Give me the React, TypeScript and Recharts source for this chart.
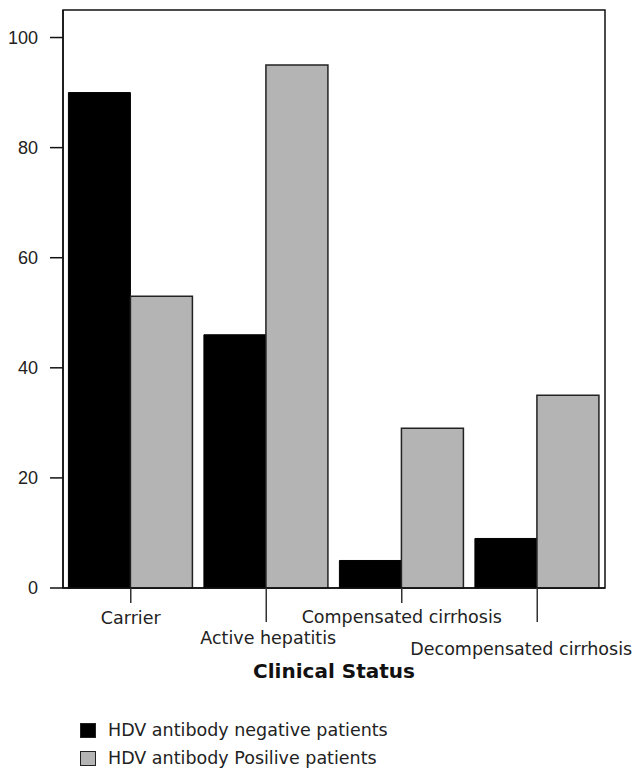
import { BarChart, Bar, XAxis, YAxis, Legend, ReferenceArea } from "recharts";

const categories = [
  "Carrier",
  "Active hepatitis",
  "Compensated cirrhosis",
  "Decompensated cirrhosis",
];
const negativeValues = [90, 46, 5, 9];
const positiveValues = [53, 95, 29, 35];
const yTicks = [0, 20, 40, 60, 80, 100];
const seriesNames = [
  "HDV antibody negative patients",
  "HDV antibody Posilive patients",
];

const data = categories.map((status, i) => ({
  status,
  negative: negativeValues[i],
  positive: positiveValues[i],
}));

const labelFont = "'DejaVu Sans', sans-serif";

// staggered category labels: tick length and baseline offset per index
const tickLen = [15, 34, 15, 34];
const textOffset = [36, 56, 35, 67];
const textShift = [0, 2, 0, -16];

const CategoryTick = (props: any) => {
  const { x, y, payload, index } = props;
  return (
    <g>
      <line
        x1={x}
        y1={y}
        x2={x}
        y2={y + tickLen[index]}
        stroke="#333"
        strokeWidth={1.5}
      />
      <text
        x={x + textShift[index]}
        y={y + textOffset[index]}
        textAnchor="middle"
        fontFamily={labelFont}
        fontSize={17.5}
        fill="#222"
      >
        {payload.value}
      </text>
    </g>
  );
};

const LegendBox = () => {
  const colors = ["#000", "#b4b4b4"];
  return (
    <div style={{ paddingLeft: 72, paddingTop: 17 }}>
      {seriesNames.map((name, i) => (
        <div
          key={name}
          style={{
            display: "flex",
            alignItems: "center",
            height: 15,
            marginTop: i === 0 ? 0 : 13,
          }}
        >
          <span
            style={{
              display: "inline-block",
              width: 14,
              height: 13,
              background: colors[i],
              border: "1px solid #222",
              marginRight: 12,
            }}
          />
          <span
            style={{
              fontFamily: labelFont,
              fontSize: 17.5,
              lineHeight: "15px",
              color: "#222",
              whiteSpace: "nowrap",
            }}
          >
            {name}
          </span>
        </div>
      ))}
    </div>
  );
};

const App = () => {
  return (
    <div style={{ width: 626, height: 762 }}>
      <BarChart
        width={626}
        height={762}
        data={data}
        margin={{ top: 2, right: 29, left: 0, bottom: 0 }}
        barCategoryGap="4%"
        barGap={0}
      >
        <XAxis
          dataKey="status"
          height={118}
          tickLine={false}
          tickSize={0}
          tickMargin={0}
          interval={0}
          axisLine={{ stroke: "#111", strokeWidth: 1.5 }}
          tick={<CategoryTick />}
          label={{
            value: "Clinical Status",
            position: "insideBottom",
            offset: 28,
            style: {
              fontFamily: labelFont,
              fontWeight: "bold",
              fontSize: 20,
              fill: "#111",
            },
          }}
        />
        <YAxis
          width={55}
          domain={[0, 105]}
          ticks={yTicks}
          tickSize={13}
          tickMargin={12}
          axisLine={{ stroke: "#111", strokeWidth: 1.5 }}
          tickLine={{ stroke: "#111", strokeWidth: 1.5 }}
          tick={{
            fontFamily: "'Liberation Sans', Arial, sans-serif",
            fontSize: 18,
            fill: "#222",
          }}
        />
        <ReferenceArea
          y1={0}
          y2={105}
          fill="none"
          stroke="#111"
          strokeWidth={1.5}
        />
        <Bar
          dataKey="negative"
          name={seriesNames[0]}
          fill="#000"
          stroke="#000"
          strokeWidth={1}
          isAnimationActive={false}
        />
        <Bar
          dataKey="positive"
          name={seriesNames[1]}
          fill="#b4b4b4"
          stroke="#222"
          strokeWidth={1.5}
          isAnimationActive={false}
        />
        <Legend
          verticalAlign="bottom"
          align="left"
          height={64}
          wrapperStyle={{ left: 0, width: 626 }}
          content={<LegendBox />}
        />
      </BarChart>
    </div>
  );
};

export default App;
